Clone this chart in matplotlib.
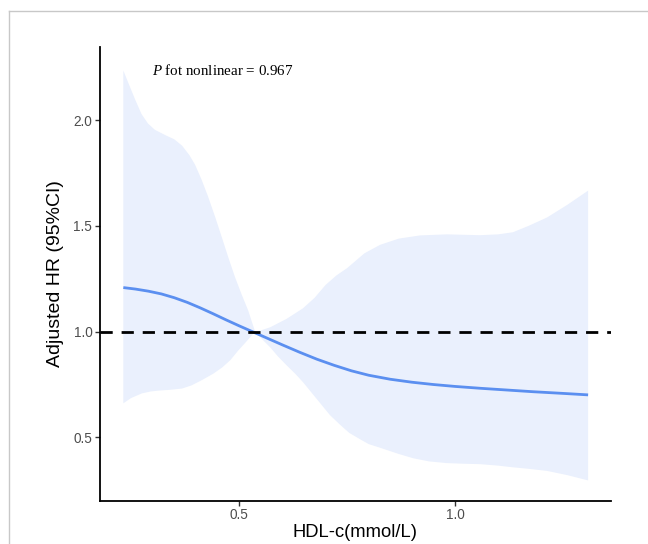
import numpy as np
import matplotlib
matplotlib.use("Agg")
import matplotlib.pyplot as plt
from matplotlib.lines import Line2D

# values
hdl = [0.232, 0.26, 0.29, 0.32, 0.35, 0.38, 0.41, 0.44, 0.47, 0.50, 0.53,
       0.56, 0.60, 0.64, 0.68, 0.72, 0.76, 0.80, 0.85, 0.90, 0.95, 1.00,
       1.06, 1.12, 1.18, 1.25, 1.308]
hr = [1.208, 1.201, 1.191, 1.178, 1.160, 1.138, 1.112, 1.084, 1.055, 1.027, 1.000,
      0.973, 0.937, 0.902, 0.869, 0.840, 0.814, 0.793, 0.774, 0.760, 0.749, 0.740,
      0.731, 0.723, 0.715, 0.707, 0.700]

upper_x = [0.232, 0.245, 0.259, 0.274, 0.289, 0.305, 0.329, 0.35, 0.368, 0.385,
           0.398, 0.413, 0.428, 0.445, 0.461, 0.476, 0.491, 0.506, 0.521, 0.537,
           0.55, 0.572, 0.61, 0.648, 0.675, 0.70, 0.725, 0.75, 0.79, 0.826,
           0.87, 0.919, 0.981, 1.058, 1.10, 1.134, 1.17, 1.213, 1.26, 1.308]
upper = [2.236, 2.17, 2.10, 2.03, 1.985, 1.955, 1.93, 1.91, 1.88, 1.835,
         1.79, 1.72, 1.64, 1.54, 1.44, 1.345, 1.255, 1.175, 1.10, 1.0,
         1.005, 1.02, 1.06, 1.11, 1.16, 1.22, 1.265, 1.30, 1.37, 1.41,
         1.44, 1.455, 1.46, 1.456, 1.46, 1.47, 1.50, 1.54, 1.60, 1.667]
lower_x = [0.232, 0.25, 0.275, 0.295, 0.3125, 0.34, 0.368, 0.39, 0.414, 0.44,
           0.461, 0.48, 0.498, 0.518, 0.537, 0.555, 0.572, 0.59, 0.61, 0.63,
           0.648, 0.67, 0.69, 0.71, 0.733, 0.755, 0.78, 0.80, 0.826, 0.87,
           0.903, 0.94, 0.981, 1.02, 1.058, 1.10, 1.134, 1.17, 1.213, 1.26, 1.308]
lower = [0.66, 0.685, 0.707, 0.716, 0.72, 0.724, 0.73, 0.745, 0.77, 0.80,
         0.83, 0.865, 0.91, 0.955, 1.0, 0.96, 0.925, 0.882, 0.84, 0.80,
         0.76, 0.705, 0.655, 0.605, 0.56, 0.52, 0.49, 0.467, 0.45, 0.42,
         0.40, 0.385, 0.377, 0.374, 0.372, 0.365, 0.357, 0.35, 0.34, 0.32, 0.295]

xticks = [0.5, 1.0]
yticks = [0.5, 1.0, 1.5, 2.0]
p_text = "fot nonlinear = 0.967"

plt.rcParams['font.family'] = ['Liberation Sans', 'DejaVu Sans']
plt.rcParams['mathtext.fontset'] = 'custom'
plt.rcParams['mathtext.it'] = 'Liberation Serif:italic'
plt.rcParams['mathtext.rm'] = 'Liberation Serif'

fig = plt.figure(figsize=(6.48, 5.44), dpi=100)
ax = fig.add_axes([100/648, 1 - 500.7/544, 511/648, 453.7/544])

# confidence band as one polygon: upper edge, then lower edge back
ax.fill(upper_x + lower_x[::-1], upper + lower[::-1], color='#EAF0FD', lw=0)
ax.plot(hdl, hr, color='#5B8FF0', lw=2.0, solid_capstyle='butt',
        solid_joinstyle='round')
ax.axhline(1.0, color='black', lw=2.0, ls=(0, (4.4, 3.2)))

ax.set_xlim(0.178, 1.361)
ax.set_ylim(0.199, 2.347)
ax.set_xticks(xticks)
ax.set_yticks(yticks)
ax.set_xticklabels(['%.1f' % v for v in xticks])
ax.set_yticklabels(['%.1f' % v for v in yticks])
ax.tick_params(length=3.5, width=1, color='#333333', labelcolor='#4D4D4D',
               labelsize=9.8, pad=2)
for s in ['top', 'right']:
    ax.spines[s].set_visible(False)
for s in ['left', 'bottom']:
    ax.spines[s].set_linewidth(1.3)
    ax.spines[s].set_color('black')

ax.set_xlabel('HDL-c(mmol/L)', fontsize=13.2, labelpad=1.5)
ax.set_ylabel('Adjusted HR (95%CI)', fontsize=14, labelpad=7)

ax.text(0.299, 2.236, r'$\it{P}$ ' + p_text, fontsize=10.8,
        family='Liberation Serif', va='center', ha='left')

# light frame of the original screenshot
fig.add_artist(Line2D([9/648, 1], [1 - 11/544, 1 - 11/544], color='#C8C8C8', lw=1))
fig.add_artist(Line2D([9/648, 9/648], [0, 1 - 11/544], color='#C8C8C8', lw=1))

fig.savefig('out.png', dpi=100)
